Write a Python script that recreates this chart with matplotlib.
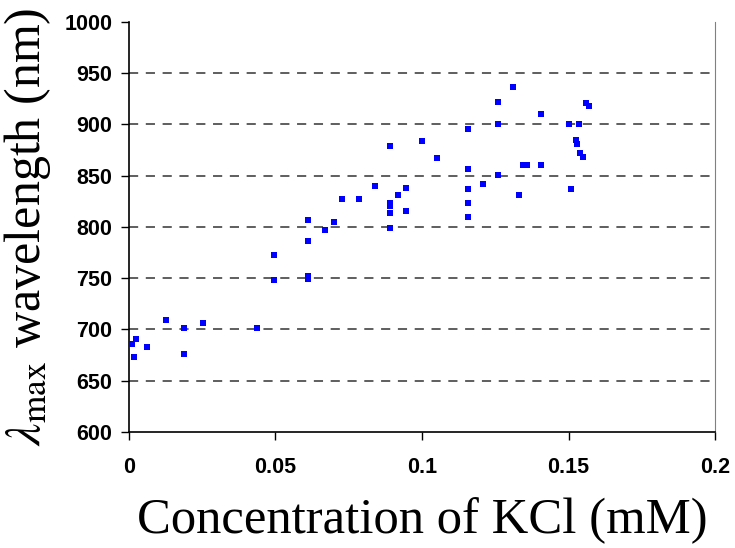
import matplotlib
matplotlib.use("Agg")
import matplotlib.pyplot as plt

# KCl concentration (mM) and lambda max (nm)
kcl_conc = [0.0009, 0.0023, 0.0016, 0.0060, 0.0128, 0.0188, 0.0188, 0.0252,
            0.0437, 0.0495, 0.0495, 0.0612, 0.0612, 0.0612, 0.0612, 0.0670,
            0.0701, 0.0728, 0.0785, 0.0839, 0.0891, 0.0891, 0.0891, 0.0891,
            0.0891, 0.0918, 0.0945, 0.0945, 0.0999, 0.1052, 0.1158, 0.1158,
            0.1158, 0.1158, 0.1158, 0.1207, 0.1258, 0.1258, 0.1258, 0.1310,
            0.1332, 0.1346, 0.1358, 0.1406, 0.1406, 0.1501, 0.1510, 0.1535,
            0.1527, 0.1528, 0.1540, 0.1551, 0.1559, 0.1570]
lambda_max = [685.6, 690.4, 672.9, 683.2, 709.0, 701.8, 675.8, 706.0,
              701.8, 773.0, 748.3, 807.0, 786.3, 752.5, 749.3, 796.8,
              805.0, 827.6, 827.6, 840.3, 879.3, 823.0, 820.5, 813.4,
              799.0, 831.0, 838.4, 815.6, 883.6, 867.0, 895.9, 856.6,
              837.0, 823.7, 810.0, 842.3, 922.0, 900.8, 850.7, 936.3,
              830.9, 860.8, 860.8, 910.6, 860.8, 900.2, 837.0, 900.2,
              884.9, 881.0, 872.5, 868.0, 921.0, 917.7]

x_ticks = [0, 0.05, 0.1, 0.15, 0.2]
x_ticklabels = ["0", "0.05", "0.1", "0.15", "0.2"]
y_ticks = [600, 650, 700, 750, 800, 850, 900, 950, 1000]

plt.rcParams['mathtext.fontset'] = 'stix'

fig = plt.figure(figsize=(7.35, 5.48), dpi=100)
ax = fig.add_axes([0.1755, 0.2117, 0.7973, 0.7482])

ax.plot(kcl_conc, lambda_max, 's', color='#0000FF', markersize=4.3,
        markeredgewidth=0, zorder=3)

ax.set_xlim(0, 0.2)
ax.set_ylim(600, 1000)
ax.set_xticks(x_ticks)
ax.set_xticklabels(x_ticklabels)
ax.set_yticks(y_ticks)

for y in y_ticks[1:-1]:
    ax.axhline(y, color='#333333', lw=1.1, ls=(0, (6, 5)), zorder=1)

for lab in ax.get_xticklabels() + ax.get_yticklabels():
    lab.set_fontfamily('Liberation Sans')
    lab.set_fontweight('bold')
    lab.set_fontsize(15.5)

ax.tick_params(axis='both', direction='out', length=6, width=1, color='black')
ax.tick_params(axis='x', pad=12)
ax.tick_params(axis='y', pad=6)

ax.spines['top'].set_visible(False)
ax.spines['right'].set_color('#808080')
ax.spines['left'].set_linewidth(1.2)
ax.spines['bottom'].set_linewidth(1.2)

ax.set_xlabel('Concentration of KCl (mM)', fontfamily='Liberation Serif',
              fontweight='normal', fontsize=36.5, labelpad=14)
ax.set_ylabel(r'$\lambda_{\rm max}$ wavelength (nm)',
              fontfamily='Liberation Serif', fontweight='normal',
              fontsize=36, labelpad=8)

fig.savefig('out.png', dpi=100)
